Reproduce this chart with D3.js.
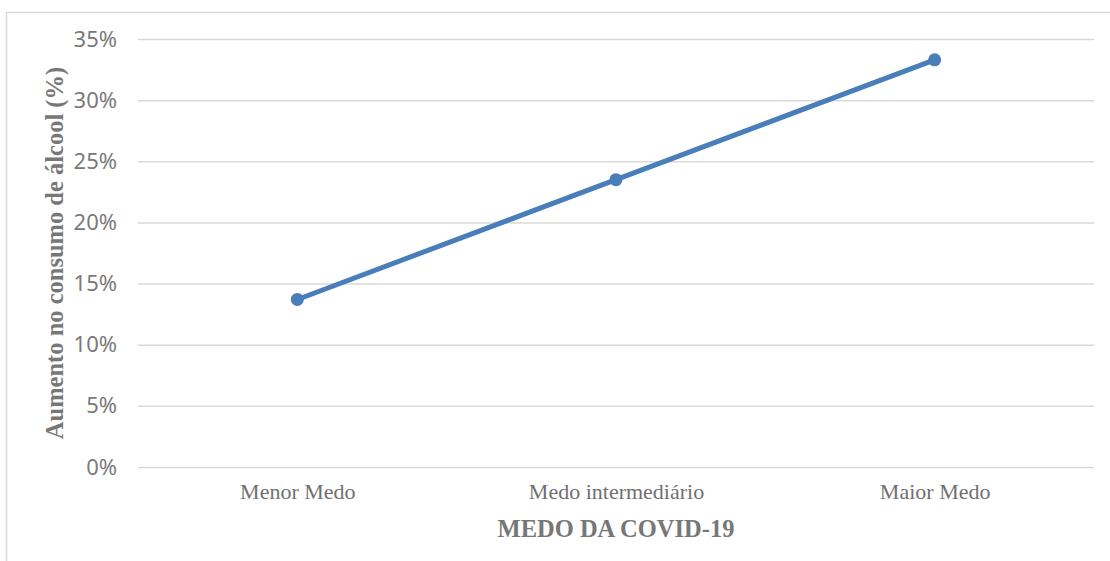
<!DOCTYPE html>
<html>
<head>
<meta charset="utf-8">
<script src="https://cdn.jsdelivr.net/npm/d3@7"></script>
<style>
  body { margin: 0; background: #fff; }
  svg { display: block; }
</style>
</head>
<body>
<script>
// dados
const categories = ['Menor Medo', 'Medo intermediário', 'Maior Medo'];
const values = [0.137, 0.235, 0.333];
const yTicks = [0, 0.05, 0.10, 0.15, 0.20, 0.25, 0.30, 0.35];

const width = 1110;
const height = 561;
const margin = {top: 39, right: 16, bottom: 94, left: 138};

const svg = d3.select('body')
    .append('svg')
    .attr('width', width)
    .attr('height', height);

// moldura do gráfico (borda cinza clara)
svg.append('path')
    .attr('d', `M6.5,${height} V12.5 H${width}`)
    .attr('fill', 'none')
    .attr('stroke', '#d9d9d9')
    .attr('stroke-width', 1.5);

const x = d3.scalePoint()
    .domain(categories)
    .range([margin.left, width - margin.right])
    .padding(0.5);

const y = d3.scaleLinear()
    .domain([0, 0.35])
    .range([height - margin.bottom, margin.top]);

// linhas de grade + rótulos do eixo y
const yAxis = svg.append('g')
    .attr('transform', `translate(${margin.left},0)`)
    .call(d3.axisLeft(y)
        .tickValues(yTicks)
        .tickFormat(d3.format('.0%'))
        .tickSize(-(width - margin.left - margin.right))
        .tickPadding(21));

yAxis.select('.domain').remove();
yAxis.selectAll('.tick line')
    .attr('stroke', '#d9d9d9')
    .attr('stroke-width', 1.5);
yAxis.selectAll('.tick text')
    .attr('fill', '#7a7a7a')
    .style('font-family', '"Noto Sans", sans-serif')
    .style('font-size', '22px');

// rótulos do eixo x
const xAxis = svg.append('g')
    .attr('transform', `translate(0,${height - margin.bottom})`)
    .call(d3.axisBottom(x).tickSize(0).tickPadding(16));

xAxis.select('.domain').remove();
xAxis.selectAll('.tick text')
    .attr('fill', '#707070')
    .style('font-family', '"Liberation Serif", serif')
    .style('font-size', '22px');

// linha da série
const line = d3.line()
    .x((d, i) => x(categories[i]))
    .y(d => y(d));

svg.append('path')
    .datum(values)
    .attr('fill', 'none')
    .attr('stroke', '#4a7ebb')
    .attr('stroke-width', 5)
    .attr('stroke-linejoin', 'round')
    .attr('d', line);

svg.selectAll('circle.pt')
    .data(values)
    .enter().append('circle')
    .attr('class', 'pt')
    .attr('cx', (d, i) => x(categories[i]))
    .attr('cy', d => y(d))
    .attr('r', 6.5)
    .attr('fill', '#4a7ebb');

// títulos dos eixos
svg.append('text')
    .attr('x', (margin.left + width - margin.right) / 2)
    .attr('y', 537)
    .attr('text-anchor', 'middle')
    .attr('fill', '#777')
    .style('font-family', '"Liberation Serif", serif')
    .style('font-weight', 'bold')
    .style('font-size', '24.5px')
    .text('MEDO DA COVID-19');

svg.append('text')
    .attr('transform', `translate(63,${(margin.top + height - margin.bottom) / 2}) rotate(-90)`)
    .attr('text-anchor', 'middle')
    .attr('fill', '#777')
    .style('font-family', '"Liberation Serif", serif')
    .style('font-weight', 'bold')
    .style('font-size', '24.5px')
    .text('Aumento no consumo de álcool (%)');
</script>
</body>
</html>
